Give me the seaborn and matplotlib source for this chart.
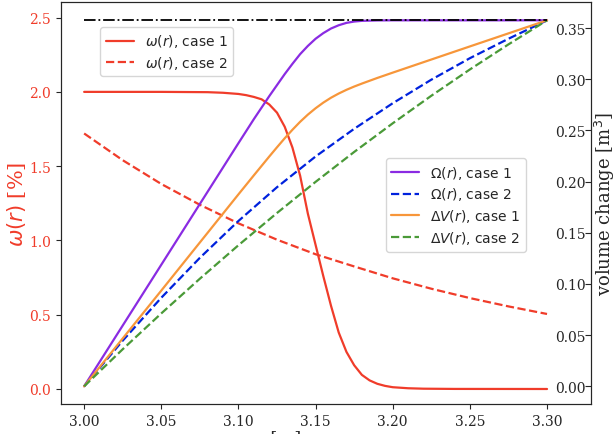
import seaborn as sns
import matplotlib
matplotlib.use("Agg")
import matplotlib.pyplot as plt

# moisture content omega(r) [%], left axis
r_w1 = [3.00, 3.05, 3.08, 3.09, 3.10, 3.105, 3.11, 3.115, 3.12, 3.125, 3.13, 3.135,
        3.14, 3.145, 3.15, 3.155, 3.16, 3.165, 3.17, 3.175, 3.18, 3.185, 3.19, 3.195,
        3.20, 3.21, 3.22, 3.24, 3.30]
w_case1 = [2.0, 2.0, 1.998, 1.994, 1.986, 1.978, 1.966, 1.95, 1.915, 1.86, 1.765, 1.625,
           1.435, 1.18, 0.97, 0.76, 0.56, 0.38, 0.25, 0.16, 0.095, 0.058, 0.035, 0.021,
           0.012, 0.005, 0.002, 0.0005, 0.0]

r_grid = [3.00, 3.025, 3.05, 3.075, 3.10, 3.125, 3.15, 3.175, 3.20, 3.225, 3.25, 3.275, 3.30]
w_case2 = [1.72, 1.54, 1.38, 1.24, 1.115, 1.005, 0.907, 0.825, 0.745, 0.675, 0.612, 0.556, 0.505]

# volume change [m^3], right axis
r_O1 = [3.00, 3.02, 3.04, 3.06, 3.08, 3.10, 3.11, 3.12, 3.13, 3.135, 3.14, 3.145, 3.15,
        3.155, 3.16, 3.165, 3.17, 3.175, 3.18, 3.19, 3.20, 3.30]
Omega_case1 = [0.0, 0.0475, 0.095, 0.1425, 0.190, 0.2375, 0.261, 0.2835, 0.305, 0.315,
               0.3245, 0.3325, 0.3395, 0.345, 0.3495, 0.3527, 0.355, 0.3563, 0.357,
               0.3574, 0.3575, 0.3575]
Omega_case2 = [0.0, 0.0446, 0.0865, 0.1255, 0.1615, 0.1945, 0.2245, 0.2515, 0.2765,
               0.2995, 0.3205, 0.3395, 0.3575]

r_V1 = [3.00, 3.05, 3.10, 3.11, 3.12, 3.125, 3.13, 3.135, 3.14, 3.145, 3.15, 3.155, 3.16,
        3.165, 3.17, 3.175, 3.18, 3.19, 3.20, 3.25, 3.30]
dV_case1 = [0.0, 0.0935, 0.1875, 0.2061, 0.2245, 0.2335, 0.2423, 0.2506, 0.2584, 0.2654,
            0.2716, 0.2771, 0.2819, 0.286, 0.2896, 0.2928, 0.2957, 0.3012, 0.3064, 0.332,
            0.3575]
dV_case2 = [0.0, 0.0362, 0.0712, 0.1051, 0.1378, 0.1693, 0.1997, 0.2289, 0.2569, 0.2838,
            0.3095, 0.334, 0.3575]

total_volume = 0.3575

red = "#f03c2a"

sns.set_style("ticks")
plt.rcParams["font.family"] = "DejaVu Serif"

fig = plt.figure(figsize=(6.14, 4.35), dpi=100)
ax = fig.add_axes([61 / 614, 30 / 435, 530 / 614, 402 / 435])
ax2 = ax.twinx()

sns.lineplot(x=r_w1, y=w_case1, ax=ax, color=red, lw=1.6, label=r"$\omega(r)$, case 1")
sns.lineplot(x=r_grid, y=w_case2, ax=ax, color=red, lw=1.6, linestyle="--",
             label=r"$\omega(r)$, case 2")

sns.lineplot(x=r_O1, y=Omega_case1, ax=ax2, color="#8a2be2", lw=1.6, label=r"$\Omega(r)$, case 1")
sns.lineplot(x=r_grid, y=Omega_case2, ax=ax2, color="#0022dd", lw=1.6, linestyle="--",
             label=r"$\Omega(r)$, case 2")
sns.lineplot(x=r_V1, y=dV_case1, ax=ax2, color="#f7963a", lw=1.6, label=r"$\Delta V(r)$, case 1")
sns.lineplot(x=r_grid, y=dV_case2, ax=ax2, color="#4a9a38", lw=1.6, linestyle="--",
             label=r"$\Delta V(r)$, case 2")
ax2.plot([r_grid[0], r_grid[-1]], [total_volume, total_volume], color="black", lw=1.3,
         linestyle="-.")

ax.set_xlim(2.985, 3.3285)
ax.set_ylim(-0.101, 2.605)
ax2.set_ylim(-0.0173, 0.3754)
ax.set_xticks([3.00, 3.05, 3.10, 3.15, 3.20, 3.25, 3.30])
ax.set_yticks([0.0, 0.5, 1.0, 1.5, 2.0, 2.5])
ax2.set_yticks([0.00, 0.05, 0.10, 0.15, 0.20, 0.25, 0.30, 0.35])

ax.tick_params(axis="both", labelsize=10)
ax.tick_params(axis="y", labelcolor=red)
# right-hand tick labels sit inside the frame, ticks pointing in
ax2.tick_params(axis="y", labelsize=10, direction="in", length=4, pad=-26)

ax.set_xlabel("r [m]", fontsize=13)
ax.xaxis.set_label_coords(0.41, -0.062)
ax.set_ylabel(r"$\omega(r)$ [%]", fontsize=15, color=red)
ax.yaxis.set_label_coords(-0.063, 0.5)
ax2.set_ylabel(r"volume change [m$^3$]", fontsize=13)
ax2.yaxis.set_label_coords(1.004, 0.5)

ax.legend(loc="upper left", bbox_to_anchor=(0.074, 0.938), frameon=True, borderaxespad=0,
          labelspacing=0.3, prop={"family": "DejaVu Sans", "size": 10})
ax2.legend(loc="upper left", bbox_to_anchor=(0.613, 0.612), frameon=True, borderaxespad=0,
           labelspacing=0.35, prop={"family": "DejaVu Sans", "size": 10})

fig.savefig("out.png", dpi=100)
